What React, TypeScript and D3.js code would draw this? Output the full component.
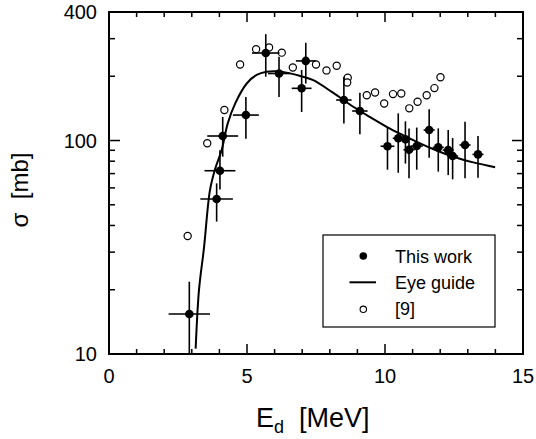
import React from "react";
import * as d3 from "d3";

// ---- Data ----
// This work: energy (MeV), cross section (mb), error bounds, energy half-width
const thisE = [2.91, 3.9, 4.02, 4.12, 4.96, 5.68, 6.16, 6.98, 7.13, 8.51, 9.09, 10.09, 10.48, 10.74, 10.87, 11.15, 11.6, 11.93, 12.29, 12.45, 12.9, 13.37];
const thisS = [15.4, 53.2, 72.2, 105, 131.6, 257, 206, 175.6, 236, 154.8, 137.5, 94, 102.4, 101.3, 90.5, 94.2, 112, 92.9, 90.2, 84.6, 95.3, 86.1];
const thisLo = [9, 41.7, 59, 84, 102, 199, 160, 136, 185, 120, 107, 73, 70.6, 78, 66.5, 73, 83, 71.5, 68.9, 65.8, 66.5, 67];
const thisHi = [21.8, 63, 90, 129, 160, 315, 247, 214, 287, 199, 167.5, 115, 134, 123, 114, 115, 140, 114, 112, 102.7, 122.4, 105];
const thisDE = [0.75, 0.59, 0.56, 0.56, 0.47, 0.5, 0.4, 0.36, 0.36, 0.28, 0.28, 0.25, 0.2, 0.2, 0.2, 0.22, 0.2, 0.2, 0.2, 0.2, 0.2, 0.2];

// Reference [9]
const refE = [2.85, 3.56, 4.18, 4.75, 5.33, 5.8, 6.26, 6.66, 7.5, 7.88, 8.25, 8.65, 8.63, 9.34, 9.64, 9.97, 10.29, 10.59, 10.88, 11.18, 11.51, 11.79, 12.01];
const refS = [35.7, 97.1, 139, 227, 268, 273, 258, 220, 227, 213, 224, 197, 187, 163, 168, 149, 165, 166, 141.5, 152, 163, 176, 198];

// Eye guide
const guideE = [3.14, 3.26, 3.44, 3.66, 3.85, 4.08, 4.3, 4.57, 4.99, 5.35, 5.71, 6.1, 6.44, 6.9, 7.4, 8.1, 8.85, 9.45, 10.06, 10.65, 11.27, 11.85, 12.47, 13.2, 13.99];
const guideS = [10.6, 19.9, 31.3, 58.7, 74, 90, 120, 149, 185, 203, 210, 211, 208, 201, 192, 168, 144, 129, 116, 106, 97, 90, 84, 79, 75];

const xTicks = [0, 5, 10, 15];
const yTicks = [10, 100, 400];
const legendLabels = ["This work", "Eye guide", "[9]"];

const W = 536;
const H = 439;
const L = 109, R = 523, T = 12, B = 354;
const FONT = "'Liberation Sans', Arial, Helvetica, sans-serif";

export default function App() {
  const x = d3.scaleLinear().domain([0, 15]).range([L, R]);
  const y = d3.scaleLog().domain([10, 400]).range([B, T]);

  const guidePts = guideE.map((e, i) => [x(e), y(guideS[i])] as [number, number]);
  const guidePath = d3.line().curve(d3.curveCatmullRom.alpha(0.5))(guidePts) || "";

  const minorX = d3.range(0, 16).filter((v) => v % 5 !== 0);
  const minorY = [20, 30, 40, 50, 60, 70, 80, 90, 200, 300];

  const lx = 323, ly = 235;

  return (
    <svg width={W} height={H} style={{ position: "absolute", left: 0, top: 0, background: "#fff" }}
      fontFamily={FONT}>
      <rect x={0} y={0} width={W} height={H} fill="#fff" />
      <defs>
        <clipPath id="plotclip">
          <rect x={L} y={T} width={R - L} height={B - T} />
        </clipPath>
      </defs>

      {/* ticks */}
      <g stroke="#000" strokeWidth={1.5}>
        {xTicks.map((t) => (
          <g key={"xt" + t}>
            <line x1={x(t)} x2={x(t)} y1={B} y2={B - 10} />
            <line x1={x(t)} x2={x(t)} y1={T} y2={T + 10} />
          </g>
        ))}
        {minorX.map((t) => (
          <g key={"xm" + t}>
            <line x1={x(t)} x2={x(t)} y1={B} y2={B - 5} />
            <line x1={x(t)} x2={x(t)} y1={T} y2={T + 5} />
          </g>
        ))}
        {yTicks.map((t) => (
          <g key={"yt" + t}>
            <line x1={L} x2={L + 11} y1={y(t)} y2={y(t)} />
            <line x1={R} x2={R - 11} y1={y(t)} y2={y(t)} />
          </g>
        ))}
        {minorY.map((t) => (
          <g key={"ym" + t}>
            <line x1={L} x2={L + 6} y1={y(t)} y2={y(t)} />
            <line x1={R} x2={R - 6} y1={y(t)} y2={y(t)} />
          </g>
        ))}
      </g>

      {/* tick labels */}
      <g fontSize={20} fill="#000">
        {xTicks.map((t) => (
          <text key={"xl" + t} x={x(t)} y={383} textAnchor="middle">{t}</text>
        ))}
        {yTicks.map((t) => (
          <text key={"yl" + t} x={97} y={y(t)} dy="0.36em" textAnchor="end">{t}</text>
        ))}
      </g>

      {/* axis titles */}
      <text x={256} y={427} fontSize={27} fill="#000">
        E<tspan fontSize={18} dy={6}>d</tspan>
        <tspan dy={-6} style={{ whiteSpace: "pre" }}>{"  [MeV]"}</tspan>
      </text>
      <text transform={`translate(28,${190}) rotate(-90)`} textAnchor="middle" fontSize={24} fill="#000"
        style={{ whiteSpace: "pre" }}>
        {"σ  [mb]"}
      </text>

      <g clipPath="url(#plotclip)">
        {/* eye guide */}
        <path d={guidePath} fill="none" stroke="#000" strokeWidth={2} />

        {/* reference [9] */}
        {refE.map((e, i) => (
          <circle key={"r" + i} cx={x(e)} cy={y(refS[i])} r={3.6} fill="#fff" stroke="#000" strokeWidth={1.2} />
        ))}

        {/* this work */}
        {thisE.map((e, i) => (
          <g key={"t" + i} stroke="#000" strokeWidth={1.6}>
            <line x1={x(e)} x2={x(e)} y1={y(thisLo[i])} y2={y(thisHi[i])} />
            <line x1={x(e - thisDE[i])} x2={x(e + thisDE[i])} y1={y(thisS[i])} y2={y(thisS[i])} />
            <circle cx={x(e)} cy={y(thisS[i])} r={4.3} fill="#000" stroke="none" />
          </g>
        ))}
      </g>

      {/* frame */}
      <rect x={L} y={T} width={R - L} height={B - T} fill="none" stroke="#000" strokeWidth={2} />

      {/* legend */}
      <g>
        <rect x={lx} y={ly} width={172} height={92} fill="#fff" stroke="#000" strokeWidth={1.2} />
        <circle cx={363.3} cy={256} r={3.8} fill="#000" />
        <line x1={349.5} x2={376} y1={282.3} y2={282.3} stroke="#000" strokeWidth={2} />
        <circle cx={363.3} cy={309.3} r={3.2} fill="#fff" stroke="#000" strokeWidth={1.1} />
        <g fontSize={18} fill="#000">
          <text x={395} y={263}>{legendLabels[0]}</text>
          <text x={395} y={288.5}>{legendLabels[1]}</text>
          <text x={395} y={315}>{legendLabels[2]}</text>
        </g>
      </g>
    </svg>
  );
}
